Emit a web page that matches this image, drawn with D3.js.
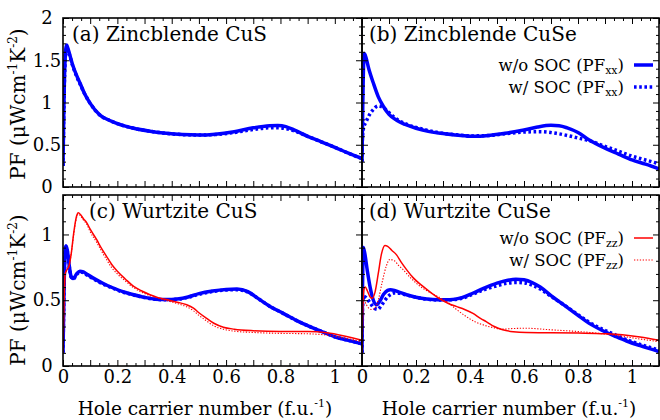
<!DOCTYPE html>
<html><head><meta charset="utf-8">
<script src="https://cdn.jsdelivr.net/npm/d3@7"></script>
<style>body{margin:0;background:#fff} svg text{font-family:"DejaVu Serif",serif;fill:#000}</style>
</head><body><svg id="c" width="660" height="420"></svg>
<script>
// ---------------- data (x = hole carrier number, y = PF) ----------------
const xTickLabels = [0, 0.2, 0.4, 0.6, 0.8, 1];
const yTicksTop = [0, 0.5, 1, 1.5, 2];
const yTicksBottom = [0, 0.5, 1];
const panelTitles = ["(a) Zincblende CuS", "(b) Zincblende CuSe", "(c) Wurtzite CuS", "(d) Wurtzite CuSe"];

const zbCuS_noSOC = [[0,0.25],[0.003,0.9],[0.007,1.45],[0.013,1.68],[0.02,1.62],[0.035,1.45],[0.05,1.32],[0.0625,1.23],[0.08,1.1],[0.1,0.99],[0.136,0.85],[0.17,0.79],[0.2,0.75],[0.26,0.695],[0.32,0.66],[0.38,0.635],[0.44,0.62],[0.5,0.615],[0.56,0.625],[0.63,0.655],[0.7,0.70],[0.76,0.725],[0.79,0.728],[0.82,0.715],[0.85,0.675],[0.9,0.60],[0.95,0.535],[1.0,0.47],[1.05,0.40],[1.1,0.335]];
const zbCuS_SOC = [[0,0.25],[0.003,0.9],[0.007,1.42],[0.013,1.65],[0.02,1.60],[0.035,1.44],[0.05,1.31],[0.0625,1.22],[0.08,1.1],[0.1,0.99],[0.136,0.85],[0.17,0.79],[0.2,0.75],[0.26,0.695],[0.32,0.66],[0.38,0.635],[0.44,0.62],[0.5,0.615],[0.56,0.62],[0.63,0.645],[0.7,0.68],[0.76,0.70],[0.79,0.70],[0.82,0.69],[0.85,0.665],[0.9,0.60],[0.95,0.535],[1.0,0.47],[1.05,0.40],[1.1,0.335]];

const zbCuSe_noSOC = [[0,0.3],[0.003,1.0],[0.008,1.58],[0.012,1.56],[0.025,1.40],[0.042,1.23],[0.06,1.07],[0.08,0.95],[0.1,0.86],[0.128,0.79],[0.16,0.74],[0.2,0.695],[0.25,0.655],[0.29,0.635],[0.35,0.615],[0.41,0.60],[0.47,0.61],[0.53,0.635],[0.6,0.675],[0.65,0.71],[0.7,0.73],[0.73,0.725],[0.76,0.70],[0.8,0.645],[0.84,0.56],[0.9,0.46],[0.95,0.39],[1.0,0.32],[1.05,0.27],[1.1,0.215]];
const zbCuSe_SOC = [[0,0.3],[0.002,0.6],[0.006,0.70],[0.015,0.77],[0.025,0.84],[0.04,0.91],[0.06,0.96],[0.075,0.945],[0.09,0.91],[0.11,0.85],[0.13,0.80],[0.16,0.75],[0.2,0.705],[0.25,0.665],[0.29,0.64],[0.35,0.618],[0.41,0.605],[0.47,0.61],[0.53,0.63],[0.6,0.65],[0.66,0.655],[0.72,0.635],[0.76,0.61],[0.8,0.58],[0.85,0.54],[0.9,0.48],[0.95,0.425],[1.0,0.365],[1.05,0.32],[1.1,0.275]];

const wzCuS_xx_noSOC = [[0,0.1],[0.004,0.6],[0.008,0.88],[0.011,0.915],[0.016,0.88],[0.022,0.78],[0.03,0.68],[0.038,0.665],[0.05,0.70],[0.062,0.72],[0.075,0.715],[0.09,0.695],[0.11,0.67],[0.15,0.625],[0.185,0.593],[0.22,0.565],[0.26,0.542],[0.3,0.522],[0.34,0.508],[0.38,0.505],[0.42,0.51],[0.46,0.525],[0.5,0.55],[0.55,0.57],[0.6,0.582],[0.64,0.585],[0.68,0.565],[0.72,0.51],[0.76,0.455],[0.81,0.40],[0.86,0.345],[0.91,0.298],[0.96,0.255],[1.0,0.222],[1.05,0.195],[1.1,0.168]];
const wzCuS_xx_SOC = [[0,0.1],[0.004,0.6],[0.008,0.87],[0.011,0.905],[0.016,0.87],[0.022,0.77],[0.03,0.675],[0.038,0.66],[0.05,0.695],[0.062,0.715],[0.075,0.71],[0.09,0.69],[0.11,0.665],[0.15,0.62],[0.185,0.59],[0.22,0.562],[0.26,0.54],[0.3,0.52],[0.34,0.507],[0.38,0.503],[0.42,0.507],[0.46,0.522],[0.5,0.545],[0.55,0.566],[0.6,0.578],[0.64,0.58],[0.68,0.562],[0.72,0.51],[0.76,0.455],[0.81,0.40],[0.86,0.345],[0.91,0.298],[0.96,0.255],[1.0,0.222],[1.05,0.195],[1.1,0.168]];
const wzCuS_zz_noSOC = [[0,0.1],[0.004,0.5],[0.008,0.70],[0.014,0.73],[0.022,0.76],[0.03,0.85],[0.04,1.02],[0.05,1.14],[0.056,1.165],[0.065,1.15],[0.075,1.12],[0.087,1.09],[0.1,1.04],[0.124,0.96],[0.14,0.90],[0.16,0.834],[0.18,0.77],[0.2,0.72],[0.23,0.66],[0.26,0.605],[0.29,0.57],[0.32,0.542],[0.35,0.52],[0.38,0.505],[0.42,0.485],[0.455,0.466],[0.48,0.44],[0.5,0.405],[0.53,0.36],[0.555,0.325],[0.59,0.295],[0.63,0.28],[0.7,0.268],[0.8,0.262],[0.9,0.262],[0.97,0.252],[1.03,0.23],[1.1,0.195]];
const wzCuS_zz_SOC = [[0,0.1],[0.004,0.5],[0.008,0.70],[0.014,0.73],[0.022,0.76],[0.03,0.85],[0.04,1.01],[0.05,1.13],[0.056,1.155],[0.065,1.14],[0.075,1.11],[0.087,1.08],[0.1,1.02],[0.124,0.94],[0.14,0.88],[0.16,0.81],[0.18,0.745],[0.2,0.70],[0.23,0.645],[0.26,0.595],[0.29,0.56],[0.32,0.535],[0.35,0.515],[0.38,0.498],[0.42,0.475],[0.455,0.45],[0.48,0.42],[0.5,0.385],[0.53,0.34],[0.555,0.305],[0.59,0.28],[0.63,0.265],[0.7,0.255],[0.8,0.248],[0.9,0.245],[0.97,0.235],[1.03,0.215],[1.1,0.185]];

const wzCuSe_xx_noSOC = [[0,0.1],[0.002,0.6],[0.005,0.90],[0.01,0.86],[0.02,0.72],[0.03,0.60],[0.042,0.50],[0.054,0.466],[0.065,0.49],[0.08,0.545],[0.095,0.575],[0.105,0.58],[0.12,0.575],[0.14,0.56],[0.165,0.542],[0.2,0.523],[0.24,0.509],[0.28,0.503],[0.325,0.504],[0.37,0.52],[0.41,0.553],[0.45,0.59],[0.5,0.63],[0.54,0.652],[0.57,0.66],[0.6,0.655],[0.63,0.635],[0.66,0.60],[0.7,0.535],[0.755,0.453],[0.8,0.385],[0.84,0.326],[0.89,0.27],[0.94,0.224],[0.98,0.19],[1.03,0.155],[1.1,0.11]];
const wzCuSe_xx_SOC = [[0,0.1],[0.002,0.45],[0.006,0.53],[0.015,0.52],[0.03,0.48],[0.045,0.44],[0.058,0.43],[0.07,0.455],[0.085,0.50],[0.1,0.535],[0.12,0.555],[0.14,0.552],[0.165,0.54],[0.2,0.522],[0.24,0.508],[0.28,0.502],[0.325,0.503],[0.37,0.515],[0.41,0.545],[0.45,0.578],[0.5,0.61],[0.54,0.63],[0.57,0.635],[0.6,0.632],[0.63,0.615],[0.66,0.585],[0.7,0.53],[0.755,0.455],[0.8,0.39],[0.84,0.335],[0.89,0.28],[0.94,0.235],[0.98,0.20],[1.03,0.165],[1.1,0.12]];
const wzCuSe_zz_noSOC = [[0,0.1],[0.003,0.45],[0.008,0.59],[0.012,0.60],[0.02,0.57],[0.03,0.525],[0.038,0.515],[0.048,0.56],[0.06,0.70],[0.072,0.85],[0.085,0.916],[0.095,0.91],[0.11,0.88],[0.128,0.845],[0.145,0.79],[0.165,0.733],[0.19,0.67],[0.226,0.605],[0.26,0.55],[0.288,0.51],[0.32,0.475],[0.349,0.453],[0.38,0.43],[0.411,0.40],[0.44,0.36],[0.46,0.338],[0.49,0.30],[0.521,0.275],[0.56,0.26],[0.608,0.254],[0.7,0.253],[0.8,0.25],[0.9,0.245],[0.964,0.237],[1.03,0.22],[1.1,0.195]];
const wzCuSe_zz_SOC = [[0,0.1],[0.003,0.45],[0.008,0.50],[0.015,0.47],[0.025,0.44],[0.036,0.43],[0.048,0.44],[0.06,0.50],[0.075,0.64],[0.09,0.76],[0.103,0.81],[0.12,0.80],[0.135,0.765],[0.152,0.733],[0.18,0.67],[0.226,0.59],[0.26,0.55],[0.288,0.52],[0.32,0.48],[0.35,0.43],[0.386,0.376],[0.42,0.335],[0.448,0.313],[0.49,0.29],[0.52,0.28],[0.56,0.285],[0.608,0.287],[0.7,0.275],[0.78,0.265],[0.87,0.25],[0.964,0.226],[1.03,0.205],[1.1,0.185]];

// ---------------- drawing ----------------
const svg = d3.select("#c");
const BLUE = "#0000ff", RED = "#ff0000";
const styles = {
  blueSolid: {stroke: BLUE, w: 3.5, dash: null},
  blueDot:   {stroke: BLUE, w: 3.5, dash: "2.6,2.6"},
  redSolid:  {stroke: RED, w: 1.5, dash: null},
  redDot:    {stroke: RED, w: 1.1, dash: "1.3,1.6"}
};
const r3 = v => +v.toFixed(4);
const xMajor = d3.range(0, 12).map(i => r3(i * 0.1));
const xMinor = d3.range(0, 34).map(i => r3(i / 30)).filter(v => v <= 1.1 + 1e-9 && Math.abs(v * 10 - Math.round(v * 10)) > 1e-6);

function panel(cfg) {
  const x = d3.scaleLinear().domain([0, 1.1]).range([cfg.x0, cfg.x1]);
  const y = d3.scaleLinear().domain([0, cfg.ymax]).range([cfg.y1, cfg.y0]);
  const yMajor = d3.range(0, Math.round(cfg.ymax / 0.5) + 1).map(i => r3(i * 0.5)).filter(v => v <= cfg.ymax + 1e-9);
  const yMinor = d3.range(0, Math.round(cfg.ymax / 0.1) + 1).map(i => r3(i * 0.1)).filter(v => Math.abs(v * 2 - Math.round(v * 2)) > 1e-6);

  svg.append("clipPath").attr("id", "clip" + cfg.id)
    .append("rect").attr("x", cfg.x0).attr("y", cfg.y0).attr("width", cfg.x1 - cfg.x0).attr("height", cfg.y1 - cfg.y0);

  const line = d3.line().x(d => x(d[0])).y(d => y(d[1])).curve(d3.curveMonotoneX);
  const gl = svg.append("g").attr("clip-path", `url(#clip${cfg.id})`);
  cfg.series.forEach(s => {
    const st = styles[s.style];
    gl.append("path").datum(s.data).attr("d", line)
      .attr("fill", "none").attr("stroke", st.stroke).attr("stroke-width", st.w)
      .attr("stroke-dasharray", st.dash).attr("stroke-linejoin", "round");
  });

  const fmt = d => (xTickLabels.includes(d) ? d3.format("~g")(d) : "");
  const clean = g => { g.select(".domain").remove(); g.attr("font-family", null).attr("font-size", null); g.selectAll("line").attr("stroke", "#000").attr("stroke-width", 1); };
  // bottom
  svg.append("g").attr("transform", `translate(0,${cfg.y1})`)
    .call(d3.axisBottom(x).tickValues(xMajor).tickSize(-6).tickPadding(4).tickFormat(cfg.xlab ? fmt : ""))
    .call(clean).selectAll("text").attr("font-size", 18);
  svg.append("g").attr("transform", `translate(0,${cfg.y1})`)
    .call(d3.axisBottom(x).tickValues(xMinor).tickSize(-3).tickFormat("")).call(clean);
  // top
  svg.append("g").attr("transform", `translate(0,${cfg.y0})`)
    .call(d3.axisTop(x).tickValues(xMajor).tickSize(-6).tickFormat("")).call(clean);
  svg.append("g").attr("transform", `translate(0,${cfg.y0})`)
    .call(d3.axisTop(x).tickValues(xMinor).tickSize(-3).tickFormat("")).call(clean);
  // left
  const gLeft = svg.append("g").attr("transform", `translate(${cfg.x0},0)`)
    .call(d3.axisLeft(y).tickValues(yMajor).tickSize(-6).tickFormat(cfg.ylab ? d3.format("~g") : "")).call(clean);
  gLeft.selectAll("text").attr("font-size", 18).attr("text-anchor", "middle").attr("x", -16);
  svg.append("g").attr("transform", `translate(${cfg.x0},0)`)
    .call(d3.axisLeft(y).tickValues(yMinor).tickSize(-3).tickFormat("")).call(clean);
  // right
  svg.append("g").attr("transform", `translate(${cfg.x1},0)`)
    .call(d3.axisRight(y).tickValues(yMajor).tickSize(-6).tickFormat("")).call(clean);
  svg.append("g").attr("transform", `translate(${cfg.x1},0)`)
    .call(d3.axisRight(y).tickValues(yMinor).tickSize(-3).tickFormat("")).call(clean);

  // frame
  svg.append("rect").attr("x", cfg.x0).attr("y", cfg.y0).attr("width", cfg.x1 - cfg.x0).attr("height", cfg.y1 - cfg.y0)
    .attr("fill", "none").attr("stroke", "#000").attr("stroke-width", 1.6);

  // title
  svg.append("text").attr("x", cfg.tx).attr("y", cfg.ty).attr("font-size", 20).text(cfg.title);

  // legend
  if (cfg.legend) {
    cfg.legend.forEach((L, i) => {
      const ly = cfg.legY + i * 22;
      const t = svg.append("text").attr("x", 624).attr("y", ly + 6).attr("text-anchor", "end").attr("font-size", 16.5);
      t.append("tspan").text(L.label);
      t.append("tspan").attr("font-size", 11).attr("dy", 3).text(L.sub);
      t.append("tspan").attr("dy", -3).text(")");
      const st = styles[L.style];
      svg.append("line").attr("x1", 634).attr("x2", 653).attr("y1", ly).attr("y2", ly)
        .attr("stroke", st.stroke).attr("stroke-width", st.w).attr("stroke-dasharray", st.dash);
    });
  }
}

const L = [63, 362, 659];
const T = [18, 187, 195, 366];

panel({id: "a", x0: L[0], x1: L[1], y0: T[0], y1: T[1], ymax: 2, xlab: false, ylab: true,
  title: panelTitles[0], tx: 72, ty: 41,
  series: [{data: zbCuS_SOC, style: "blueDot"}, {data: zbCuS_noSOC, style: "blueSolid"}]});
panel({id: "b", x0: L[1], x1: L[2], y0: T[0], y1: T[1], ymax: 2, xlab: false, ylab: false,
  title: panelTitles[1], tx: 369, ty: 41,
  series: [{data: zbCuSe_SOC, style: "blueDot"}, {data: zbCuSe_noSOC, style: "blueSolid"}],
  legY: 65, legend: [{label: "w/o SOC (PF", sub: "xx", style: "blueSolid"}, {label: "w/ SOC (PF", sub: "xx", style: "blueDot"}]});
panel({id: "c", x0: L[0], x1: L[1], y0: T[2], y1: T[3], ymax: 1.3, xlab: true, ylab: true,
  title: panelTitles[2], tx: 89, ty: 218,
  series: [{data: wzCuS_xx_SOC, style: "blueDot"}, {data: wzCuS_xx_noSOC, style: "blueSolid"},
           {data: wzCuS_zz_SOC, style: "redDot"}, {data: wzCuS_zz_noSOC, style: "redSolid"}]});
panel({id: "d", x0: L[1], x1: L[2], y0: T[2], y1: T[3], ymax: 1.3, xlab: true, ylab: false,
  title: panelTitles[3], tx: 369, ty: 218,
  series: [{data: wzCuSe_xx_SOC, style: "blueDot"}, {data: wzCuSe_xx_noSOC, style: "blueSolid"},
           {data: wzCuSe_zz_SOC, style: "redDot"}, {data: wzCuSe_zz_noSOC, style: "redSolid"}],
  legY: 238, legend: [{label: "w/o SOC (PF", sub: "zz", style: "redSolid"}, {label: "w/ SOC (PF", sub: "zz", style: "redDot"}]});

// axis titles
function yLabel(cy) {
  const t = svg.append("text").attr("transform", `translate(25,${cy}) rotate(-90)`).attr("text-anchor", "middle").attr("font-size", 20);
  t.append("tspan").text("PF (μWcm");
  t.append("tspan").attr("font-size", 12).attr("dy", -8).text("-1");
  t.append("tspan").attr("dy", 8).text("K");
  t.append("tspan").attr("font-size", 12).attr("dy", -8).text("-2");
  t.append("tspan").attr("dy", 8).text(")");
}
yLabel(104);
yLabel(290);
function xLabel(cx) {
  const t = svg.append("text").attr("x", cx).attr("y", 415).attr("text-anchor", "middle").attr("font-size", 18.5);
  t.append("tspan").text("Hole carrier number (f.u.");
  t.append("tspan").attr("font-size", 11).attr("dy", -8).text("-1");
  t.append("tspan").attr("dy", 8).text(")");
}
xLabel(205);
xLabel(509);
</script></body></html>
